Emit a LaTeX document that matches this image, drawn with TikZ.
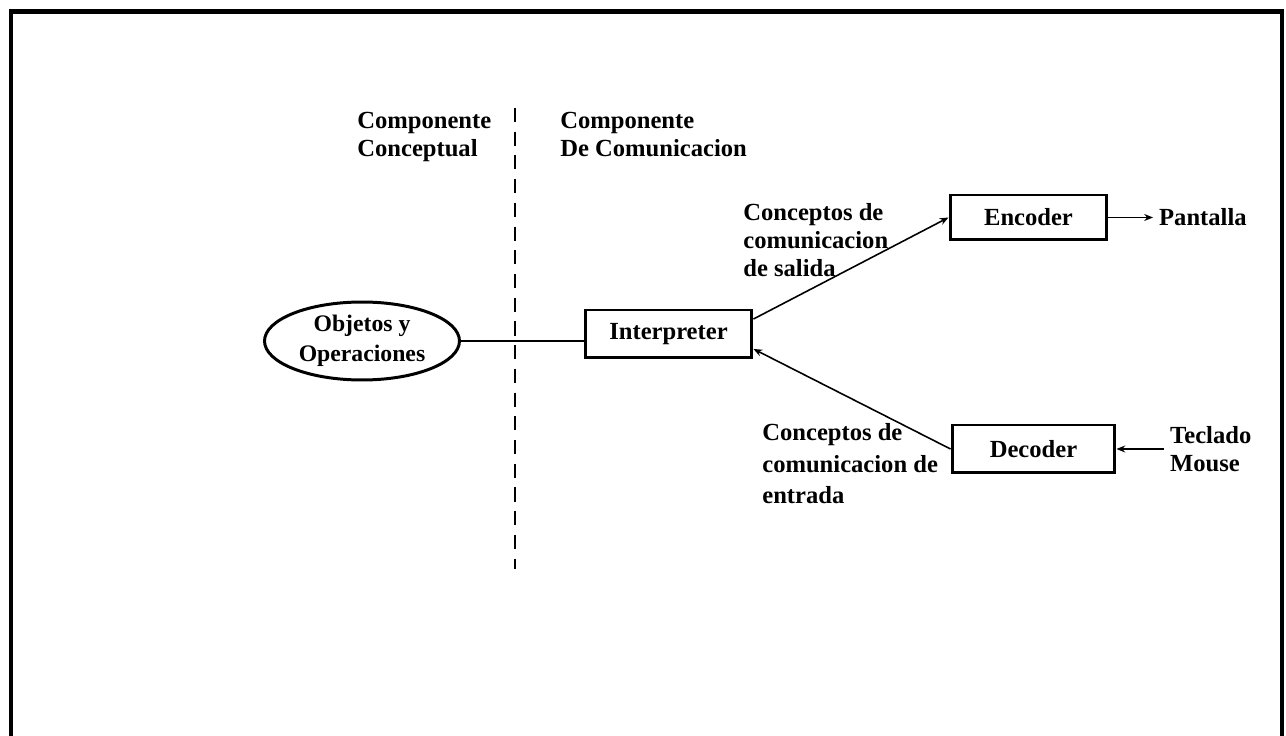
\documentclass[tikz,border=0pt]{standalone}
\usepackage{fontspec}
\setmainfont{Liberation Serif}
\usetikzlibrary{arrows.meta,shapes.geometric}

\begin{document}
\begin{tikzpicture}[
  x=0.02cm, y=-0.02cm,
  box/.style={draw, line width=1.7pt, minimum height=0.96cm, inner sep=0pt},
  oval/.style={draw, ellipse, line width=1.7pt, minimum width=3.9cm, minimum height=1.56cm, inner sep=0pt, align=center,
    font=\bfseries\fontsize{13.5}{17}\selectfont},
  arr/.style={-{Stealth[length=5pt,width=4pt]}, line width=0.9pt},
  lnk/.style={line width=0.9pt},
  lbl/.style={align=left, inner sep=0pt, anchor=north west},
  every node/.style={font=\bfseries\fontsize{14}{15.9}\selectfont}
]
\useasboundingbox (0,0) rectangle (1286,736);

% Frame, open at the bottom
\draw[line width=2.3pt] (11,745) -- (11,11.5) -- (1282,11.5) -- (1282,745);

% Divider between the two components
\coordinate (divtop) at (515,108);
\coordinate (divbot) at (515,569);
\draw[dash pattern=on 8pt off 5.5pt, line width=1.1pt] (divtop) -- (divbot);

% Column headings
\node[lbl] (concept) at (357,112) {Componente\\Conceptual};
\node[lbl] (comm) at (560,112) {Componente\\De Comunicacion};

% Main blocks
\node[oval] (obj) at (362,341) {Objetos y\\Operaciones};
\node[box, minimum width=3.34cm] (interp) at (668.5,334) {Interpreter};
\node[box, minimum width=3.14cm, minimum height=0.9cm] (enc) at (1028.5,217.5) {Encoder};
\node[box, minimum width=3.26cm] (dec) at (1033.5,449) {Decoder};

% Devices
\node[anchor=west] (screen) at (1153,217.5) {Pantalla};
\node[anchor=west, align=left] (input) at (1164,449) {Teclado\\Mouse};

% Connectors
\draw[lnk] (obj.east) -- (obj.east -| interp.west);
\draw[arr] (interp.10) -- (enc.west);
\draw[arr] (dec.west) -- (interp.-10);
\draw[arr] (enc.east) -- (enc.east -| screen.west);
\draw[arr] (input.west |- dec.east) -- (dec.east);

% Connector labels
\node[lbl] (outlbl) at (743,203) {Conceptos de\\comunicacion\\de salida};
\node[lbl, font=\bfseries\fontsize{14}{18}\selectfont] (inlbl) at (762,423) {Conceptos de\\comunicacion de\\entrada};

\end{tikzpicture}
\end{document}
